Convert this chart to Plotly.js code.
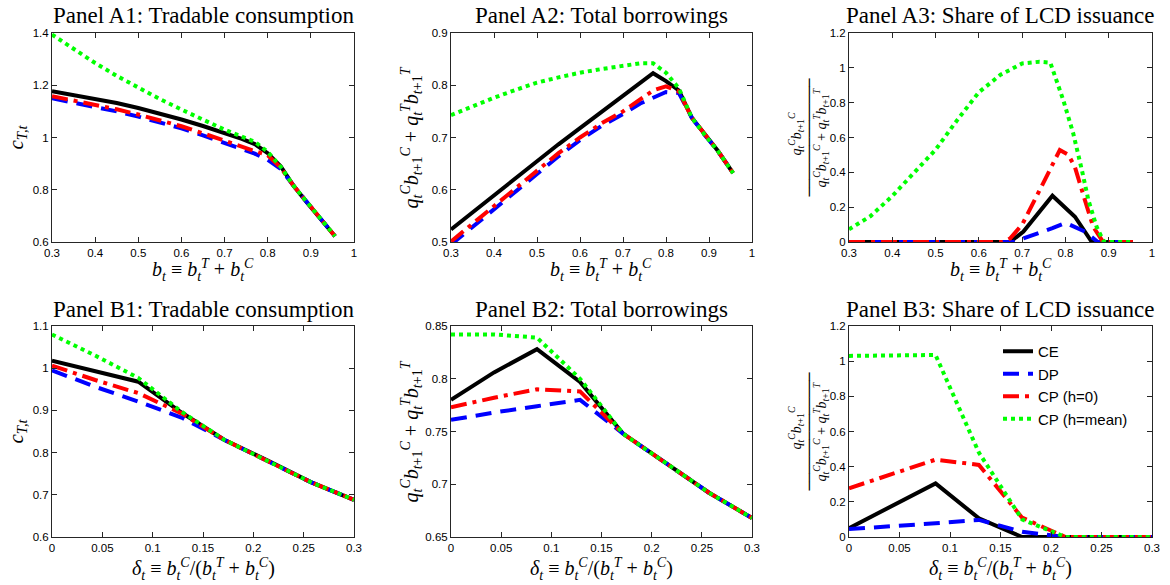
<!DOCTYPE html>
<html><head><meta charset="utf-8">
<script src="https://cdn.plot.ly/plotly-3.0.1.min.js"></script>
<style>html,body{margin:0;padding:0;background:#fff;} #chart{width:1170px;height:585px;}</style>
</head><body><div id="chart"></div>
<script>
// ---------------- DATA ----------------
const seriesNames = ['CE', 'DP', 'CP (h=0)', 'CP (h=mean)'];

// Panel A: x = b_t
const xA = [0.30,0.35,0.40,0.45,0.50,0.55,0.60,0.65,0.70,0.74,0.77,0.80,0.83,0.86,0.89,0.92,0.956];
const a1CE  = [1.177,1.163,1.149,1.132,1.113,1.092,1.069,1.044,1.018,0.995,0.975,0.940,0.890,0.815,0.753,0.692,0.622];
const a1DP  = [1.150,1.134,1.118,1.100,1.080,1.058,1.035,1.008,0.978,0.955,0.938,0.915,0.880,0.815,0.753,0.692,0.622];
const a1CP0 = [1.158,1.142,1.126,1.108,1.088,1.066,1.043,1.016,0.986,0.963,0.948,0.932,0.885,0.815,0.753,0.692,0.622];
const a1CPm = [1.394,1.340,1.285,1.236,1.190,1.147,1.107,1.067,1.030,1.003,0.984,0.945,0.888,0.815,0.753,0.692,0.622];

const a2CE  = [0.524,0.557,0.590,0.623,0.655,0.687,0.718,0.749,0.779,0.803,0.823,0.808,0.790,0.738,0.705,0.675,0.632];
const a2DP  = [0.495,0.529,0.563,0.596,0.630,0.664,0.695,0.722,0.745,0.765,0.776,0.787,0.785,0.738,0.705,0.675,0.632];
const a2CP0 = [0.501,0.535,0.568,0.602,0.636,0.670,0.700,0.727,0.750,0.773,0.790,0.798,0.788,0.738,0.705,0.675,0.632];
const a2CPm = [0.743,0.760,0.776,0.791,0.805,0.815,0.824,0.831,0.837,0.842,0.842,0.824,0.794,0.738,0.705,0.675,0.632];

const a3xCE  = [0.30,0.672,0.703,0.770,0.822,0.861,0.956];
const a3CE   = [0,0,0.06,0.266,0.145,0,0];
const a3xDP  = [0.30,0.680,0.770,0.800,0.845,0.875,0.956];
const a3DP   = [0,0,0.08,0.11,0.06,0,0];
const a3xCP0 = [0.30,0.655,0.672,0.700,0.741,0.770,0.787,0.807,0.822,0.845,0.864,0.887,0.956];
const a3CP0  = [0,0,0.02,0.10,0.30,0.45,0.528,0.50,0.43,0.24,0.088,0,0];
const a3xCPm = [0.30,0.35,0.40,0.45,0.50,0.55,0.60,0.65,0.70,0.74,0.765,0.795,0.818,0.838,0.853,0.872,0.887,0.892,0.956];
const a3CPm  = [0.073,0.149,0.264,0.398,0.530,0.700,0.860,0.960,1.025,1.035,1.030,0.815,0.624,0.413,0.241,0.088,0.01,0,0];

// Panel B: x = delta_t
const xB = [0,0.0429,0.0857,0.1286,0.1714,0.2143,0.2571,0.3];
const b1CE  = [1.018,0.993,0.968,0.895,0.830,0.781,0.730,0.688];
const b1DP  = [0.995,0.956,0.921,0.883,0.830,0.781,0.730,0.688];
const b1CP0 = [1.006,0.972,0.941,0.893,0.830,0.781,0.730,0.688];
const b1CPm = [1.080,1.030,0.977,0.897,0.830,0.781,0.730,0.688];

const b2CE  = [0.780,0.806,0.828,0.797,0.748,0.720,0.692,0.668];
const b2DP  = [0.761,0.768,0.774,0.780,0.748,0.720,0.692,0.668];
const b2CP0 = [0.773,0.782,0.790,0.788,0.748,0.720,0.692,0.668];
const b2CPm = [0.842,0.842,0.839,0.800,0.748,0.720,0.692,0.668];

const b3CE  = [0.050,0.178,0.305,0.106,0,0,0,0];
const b3DP  = [0.045,0.060,0.078,0.097,0.030,0,0,0];
const b3CP0 = [0.277,0.358,0.440,0.410,0.110,0,0,0];
const b3CPm = [1.030,1.030,1.035,0.480,0.100,0,0,0];

const panelTitles = ['Panel A1: Tradable consumption','Panel A2: Total borrowings','Panel A3: Share of LCD issuance',
                     'Panel B1: Tradable consumption','Panel B2: Total borrowings','Panel B3: Share of LCD issuance'];

// ---------------- STYLE ----------------
const W = 1170, H = 585;
const lineStyles = [
  {color:'#000000', dash:'solid'},
  {color:'#0000ff', dash:'16px,9px'},
  {color:'#ff0000', dash:'16px,6px,4px,6px'},
  {color:'#00ff00', dash:'4px,4px'}
];
const LW = 4;
// plot areas in pixels [left, right, top, bottom]
const boxes = [
  [52,354,33,242],[451,752,33,242],[849,1152,33,242],
  [52,354,326,537],[451,752,326,537],[849,1152,326,537]
];
const px = v => v / W;
const py = v => 1 - v / H;

const traces = [];
function addPanel(k, xs, ys, legend) {
  for (let s = 0; s < 4; s++) {
    traces.push({
      type:'scatter', mode:'lines', x: xs[s], y: ys[s],
      xaxis: k === 0 ? 'x' : 'x' + (k + 1), yaxis: k === 0 ? 'y' : 'y' + (k + 1),
      name: seriesNames[s], showlegend: legend, cliponaxis:false,
      line: {color: lineStyles[s].color, dash: lineStyles[s].dash, width: LW},
      hoverinfo:'skip'
    });
  }
}
addPanel(0, [xA,xA,xA,xA], [a1CE,a1DP,a1CP0,a1CPm], false);
addPanel(1, [xA,xA,xA,xA], [a2CE,a2DP,a2CP0,a2CPm], false);
addPanel(2, [a3xCE,a3xDP,a3xCP0,a3xCPm], [a3CE,a3DP,a3CP0,a3CPm], false);
addPanel(3, [xB,xB,xB,xB], [b1CE,b1DP,b1CP0,b1CPm], false);
addPanel(4, [xB,xB,xB,xB], [b2CE,b2DP,b2CP0,b2CPm], false);
addPanel(5, [xB,xB,xB,xB], [b3CE,b3DP,b3CP0,b3CPm], true);

const axBase = {
  showline:true, linecolor:'#262626', linewidth:1, mirror:'allticks',
  ticks:'inside', ticklen:5, tickwidth:1, tickcolor:'#262626',
  showgrid:false, zeroline:false, fixedrange:true,
  tickfont:{family:'Liberation Sans, Arial, sans-serif', size:11.5, color:'#000'}
};
const xRanges = [[0.3,1],[0.3,1],[0.3,1],[0,0.3],[0,0.3],[0,0.3]];
const xDt = [0.1,0.1,0.1,0.05,0.05,0.05];
const yRanges = [[0.6,1.4],[0.5,0.9],[0,1.2],[0.6,1.1],[0.65,0.85],[0,1.2]];
const yDt = [0.2,0.1,0.2,0.1,0.05,0.2];

const layout = {
  width:W, height:H, margin:{l:0,r:0,t:0,b:0},
  paper_bgcolor:'#fff', plot_bgcolor:'#fff', showlegend:true,
  legend:{x:px(998), y:py(335), xanchor:'left', yanchor:'top', bgcolor:'rgba(0,0,0,0)',
          font:{family:'Liberation Sans, Arial, sans-serif', size:15, color:'#000'}},
  annotations:[]
};
for (let k = 0; k < 6; k++) {
  const b = boxes[k];
  const xn = k === 0 ? 'xaxis' : 'xaxis' + (k + 1);
  const yn = k === 0 ? 'yaxis' : 'yaxis' + (k + 1);
  layout[xn] = Object.assign({}, axBase, {domain:[px(b[0]), px(b[1])], range:xRanges[k], dtick:xDt[k], tick0:0,
    anchor: k === 0 ? 'y' : 'y' + (k + 1)});
  layout[yn] = Object.assign({}, axBase, {domain:[py(b[3]), py(b[2])], range:yRanges[k], dtick:yDt[k], tick0:0,
    anchor: k === 0 ? 'x' : 'x' + (k + 1)});
}

const serif = 'Liberation Serif, Times New Roman, serif';
const xLabA = '<i>b</i><sub><i>t</i></sub> ≡ <i>b</i><sub><i>t</i></sub><sup><i>T</i></sup> + <i>b</i><sub><i>t</i></sub><sup><i>C</i></sup>';
const xLabB = '<i>δ</i><sub><i>t</i></sub> ≡ <i>b</i><sub><i>t</i></sub><sup><i>C</i></sup>/(<i>b</i><sub><i>t</i></sub><sup><i>T</i></sup> + <i>b</i><sub><i>t</i></sub><sup><i>C</i></sup>)';
const yLabC = '<i>c</i><sub><i>T,t</i></sub>';
const numer = '<i>q</i><sub><i>t</i></sub><sup><i>C</i></sup><i>b</i><sub><i>t</i>+1</sub><sup><i>C</i></sup>';
const yLabQ = numer + ' + <i>q</i><sub><i>t</i></sub><sup><i>T</i></sup><i>b</i><sub><i>t</i>+1</sub><sup><i>T</i></sup>';

function ann(text, x, y, size, angle, fam) {
  layout.annotations.push({text:text, xref:'paper', yref:'paper', x:px(x), y:py(y),
    xanchor:'center', yanchor:'middle', showarrow:false, textangle:angle || 0,
    font:{family:fam || serif, size:size, color:'#000'}});
}
for (let k = 0; k < 6; k++) {
  const b = boxes[k];
  const cx = (b[0] + b[1]) / 2, cy = (b[2] + b[3]) / 2;
  const row = k < 3 ? 0 : 1;
  ann(panelTitles[k], cx, row === 0 ? 15 : 309, 23);
  ann(row === 0 ? xLabA : xLabB, cx, row === 0 ? 270 : 569, 20);
  const col = k % 3;
  if (col === 0) ann(yLabC, 16, cy, 21, -90);
  if (col === 1) ann(yLabQ, 411, cy, 20, -90);
  if (col === 2) {
    ann(numer, 797, cy - 3, 14, -90);
    ann('─'.repeat(14), 808, cy, 14, -90, 'DejaVu Sans Mono, monospace');
    ann(yLabQ, 821, cy, 14, -90);
  }
}

Plotly.newPlot('chart', traces, layout, {staticPlot:true, displayModeBar:false});
</script>
</body></html>
